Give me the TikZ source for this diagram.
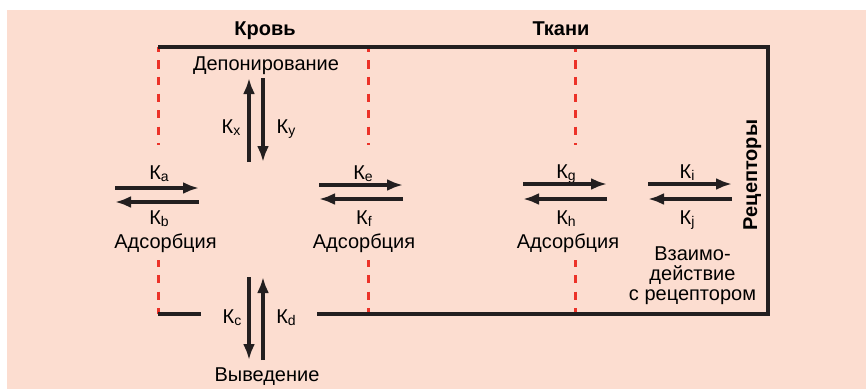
\documentclass[tikz,border=0pt]{standalone}
\usepackage{fontspec}
\setmainfont{Liberation Sans}
\usetikzlibrary{arrows.meta}
\definecolor{panel}{RGB}{252,221,208}
\definecolor{ink}{RGB}{35,31,32}
\definecolor{bound}{RGB}{236,50,40}
% rate constant: K with a lowered small index
\newcommand\kconst[1]{К\raisebox{-2.5pt}{\fontsize{14}{14}\selectfont #1}}
\begin{document}
\begin{tikzpicture}[x=1pt,y=-1pt,
  txt/.style={inner sep=0pt, anchor=base, font=\fontsize{20}{20}\selectfont},
  ttl/.style={txt, font=\fontsize{20}{20}\selectfont\bfseries},
  flow/.style={draw=ink, line width=3.2pt, -{Latex[length=16pt,width=12pt]}},
  wall/.style={draw=ink, line width=3.3pt},
  border/.style={draw=bound, line width=3pt, dash pattern=on 8.3pt off 8.3pt}]
\useasboundingbox (0,0) rectangle (866,389);
\fill[white] (0,0) rectangle (866,389);
\fill[panel] (7,10) rectangle (866,389);

% compartment frame
\coordinate (tl) at (158,47);
\coordinate (tr) at (768,47);
\coordinate (br) at (768,314);
\coordinate (bl) at (158,314);
\coordinate (gapL) at (201,314);
\coordinate (gapR) at (317,314);

% dashed boundaries between compartments
\foreach \x/\n in {158/b1,368/b2,575/b3}{
  \coordinate (\n-top) at (\x,47);
  \coordinate (\n-mid1) at (\x,145);
  \coordinate (\n-mid2) at (\x,260);
  \coordinate (\n-bot) at (\x,314);
  \draw[border, dash phase=3.3pt] (\n-top) -- (\n-mid1);
  \draw[border, dash phase=1.6pt] (\n-mid2) -- (\n-bot);
}

\draw[wall] (bl) -- (gapL);
\draw[wall] (tl) -- (tr) -- (br) -- (gapR);

% titles
\node[ttl] (blood) at (265,35) {Кровь};
\node[ttl] (tissue) at (561,35) {Ткани};
\node[ttl, rotate=90] (receptors) at (757,175) {Рецепторы};

% process labels
\node[txt] (depot) at (266,70) {Депонирование};
\node[txt] (excr) at (267,381) {Выведение};
\node[txt] (ads1) at (165.5,248) {Адсорбция};
\node[txt] (ads2) at (364,248) {Адсорбция};
\node[txt] (ads3) at (568,248) {Адсорбция};
\node[txt] (bind) at (692.5,260) {\begin{tabular}[t]{@{}c@{}}Взаимо-\\действие\\с рецептором\end{tabular}};

% rate constants
\node[txt] (ka) at (159,179) {\kconst{a}};
\node[txt] (kb) at (159,224) {\kconst{b}};
\node[txt] (ke) at (363,179) {\kconst{e}};
\node[txt] (kf) at (364,224) {\kconst{f}};
\node[txt] (kg) at (566,178) {\kconst{g}};
\node[txt] (kh) at (566,224) {\kconst{h}};
\node[txt] (ki) at (687,178) {\kconst{i}};
\node[txt] (kj) at (687,224) {\kconst{j}};
\node[txt] (kx) at (231,133) {\kconst{x}};
\node[txt] (ky) at (286,133) {\kconst{y}};
\node[txt] (kc) at (232,323) {\kconst{c}};
\node[txt] (kd) at (286,323) {\kconst{d}};

% exchange arrows
\coordinate (a1) at (115,188); \coordinate (a2) at (199,188);
\coordinate (b1) at (199,202); \coordinate (b2) at (115,202);
\coordinate (e1) at (319,185); \coordinate (e2) at (403,185);
\coordinate (f1) at (403,199); \coordinate (f2) at (319,199);
\coordinate (g1) at (523,184); \coordinate (g2) at (607,184);
\coordinate (h1) at (607,199); \coordinate (h2) at (523,199);
\coordinate (i1) at (648,184); \coordinate (i2) at (732,184);
\coordinate (j1) at (732,199); \coordinate (j2) at (648,199);
\coordinate (x1) at (249,162); \coordinate (x2) at (249,78);
\coordinate (y1) at (263,78);  \coordinate (y2) at (263,162);
\coordinate (c1) at (249,277); \coordinate (c2) at (249,360);
\coordinate (d1) at (263,360); \coordinate (d2) at (263,277);
\foreach \p in {a,b,e,f,g,h,i,j,x,y,c,d}
  \draw[flow] (\p1) -- (\p2);
\end{tikzpicture}
\end{document}
